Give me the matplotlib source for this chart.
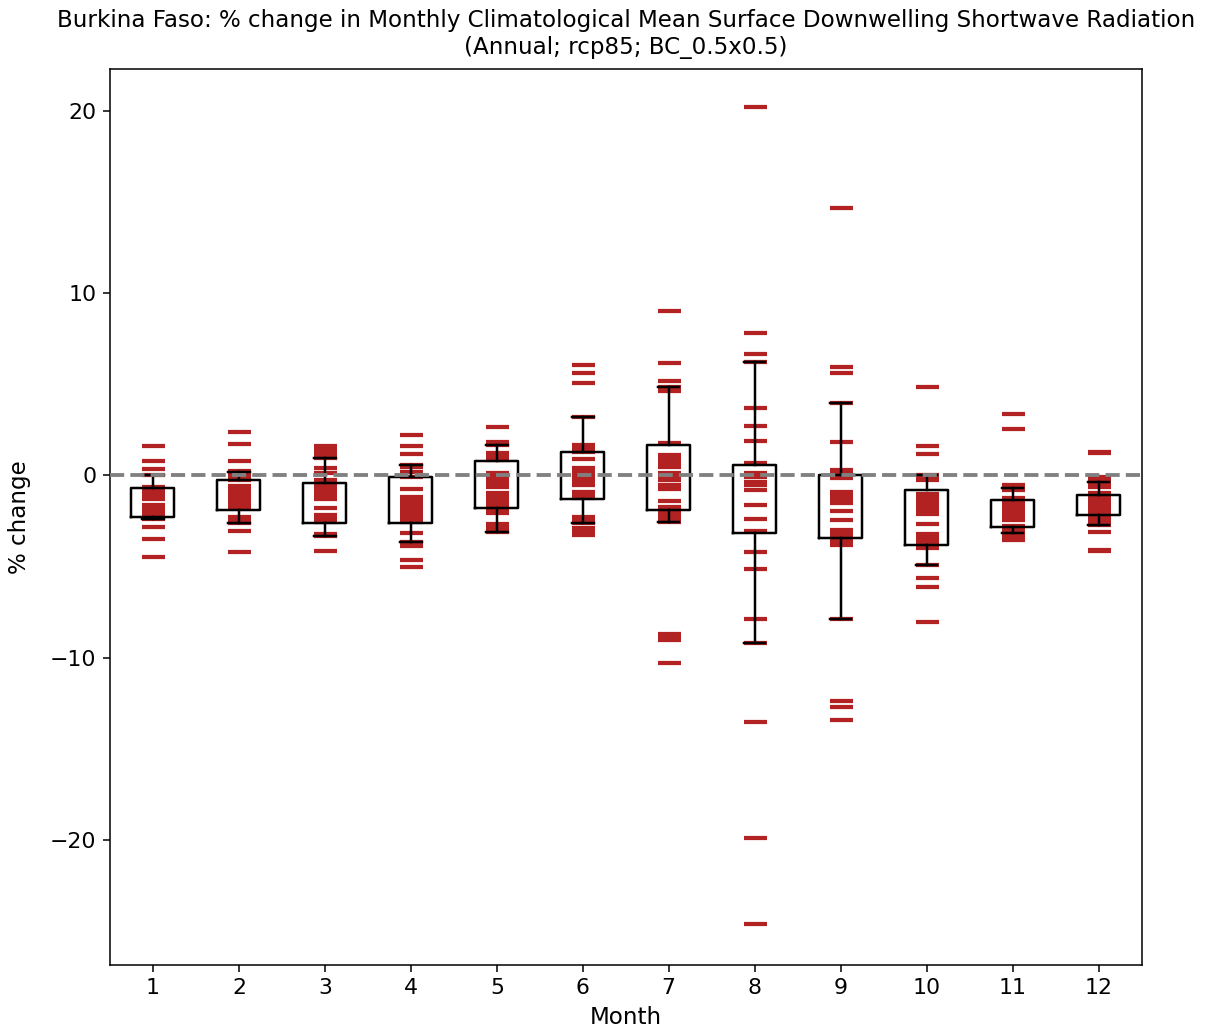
import numpy as np
import matplotlib
matplotlib.use("Agg")
import matplotlib.pyplot as plt

COUNTRY = "Burkina Faso"
TITLE = (f"{COUNTRY}: % change in Monthly Climatological Mean Surface Downwelling Shortwave Radiation\n"
         "(Annual; rcp85; BC_0.5x0.5)")

months = list(range(1, 13))

# individual model values (% change) per month
m1 = [1.63, 0.81, 0.36, 0.03, -0.62, -0.7, -0.8, -0.9, -1.0, -1.08, -1.15, -1.22, -1.3,
      -1.6, -1.68, -1.75, -1.82, -1.9, -1.97, -2.05, -2.12, -2.2, -2.26, -2.32, -2.39,
      -2.83, -3.48, -4.47]
m2 = [2.37, 1.73, 0.81, 0.26, 0.15, 0.02, -0.1, -0.25, -0.58, -0.7, -0.8, -0.95, -1.05,
      -1.15, -1.25, -1.35, -1.45, -1.55, -1.65, -1.78, -2.26, -2.4, -2.62, -3.03, -4.22]
m3 = [1.62, 1.45, 1.3, 1.15, 0.94, 0.4, 0.15, -0.25, -0.4, -0.55, -0.7, -0.85, -1.0,
      -1.16, -1.29, -1.77, -2.17, -2.3, -2.45, -2.53, -3.2, -3.32, -4.12]
m4 = [2.22, 1.64, 1.18, 0.58, 0.48, 0.21, -0.06, -0.76, -1.16, -1.3, -1.45, -1.6, -1.75,
      -1.9, -2.05, -2.2, -2.35, -2.53, -3.17, -3.63, -3.85, -4.64, -5.0]
m5 = [2.68, 1.82, 1.67, 1.25, 1.05, 0.85, 0.12, -0.1, -0.3, -0.45, -0.61, -0.96, -1.1,
      -1.25, -1.4, -1.55, -1.7, -1.85, -2.06, -2.66, -2.85, -3.03, -3.08]
m6 = [6.05, 5.6, 5.09, 3.23, 1.67, 1.5, 1.31, 0.9, 0.43, 0.25, 0.05, -0.15, -0.35,
      -0.52, -0.89, -1.05, -1.25, -2.26, -2.4, -2.53, -2.62, -2.86, -3.05, -3.26]
m7 = [9.03, 6.19, 5.19, 4.87, 4.64, 1.77, 1.12, 0.95, 0.8, 0.6, 0.48, 0.15, -0.06,
      -0.25, -0.52, -0.76, -1.38, -1.71, -1.9, -2.1, -2.3, -2.44, -2.53, -8.71, -8.85,
      -9.03, -10.3]
m8 = [20.2, 7.84, 6.67, 6.25, 3.72, 2.73, 1.89, 0.67, 0.12, -0.1, -0.35, -0.55, -0.8,
      -1.62, -2.39, -3.03, -4.21, -5.13, -7.87, -9.17, -13.5, -19.9, -24.6]
m9 = [14.68, 5.93, 5.63, 3.97, 1.81, 0.3, 0.1, -0.15, -0.93, -1.1, -1.3, -1.52, -1.97,
      -2.44, -2.99, -3.2, -3.42, -3.6, -3.81, -7.89, -12.4, -12.7, -13.42]
m10 = [4.83, 1.62, 1.16, 0.05, -0.1, -0.25, -1.0, -1.2, -1.4, -1.6, -1.8, -1.9, -2.14,
       -2.64, -3.24, -3.45, -3.65, -3.81, -3.97, -4.89, -5.64, -6.12, -8.04]
m11 = [3.36, 2.53, -0.52, -0.66, -0.8, -1.25, -1.4, -1.55, -1.7, -1.85, -2.0, -2.15,
       -2.3, -2.44, -2.75, -2.9, -3.05, -3.2, -3.35, -3.54]
m12 = [1.3, 1.22, -0.06, -0.2, -0.34, -0.48, -0.61, -0.98, -1.15, -1.3, -1.45, -1.6,
       -1.75, -1.9, -2.05, -2.2, -2.35, -2.5, -2.62, -2.72, -3.12, -4.08, -4.16]
values = [m1, m2, m3, m4, m5, m6, m7, m8, m9, m10, m11, m12]

# box statistics (10th-90th percentile whiskers)
q1 = [-2.26, -1.89, -2.62, -2.62, -1.80, -1.31, -1.89, -3.17, -3.42, -3.81, -2.81, -2.17]
q3 = [-0.67, -0.25, -0.43, -0.06, 0.80, 1.27, 1.67, 0.58, 0.05, -0.80, -1.34, -1.07]
whislo = [-2.39, -2.62, -3.32, -3.63, -3.08, -2.62, -2.53, -9.17, -7.89, -4.89, -3.17, -2.72]
whishi = [0.03, 0.21, 0.94, 0.58, 1.67, 3.23, 4.87, 6.25, 3.97, 0.05, -0.70, -0.34]

fig = plt.figure(figsize=(1208 / 138, 1034 / 138), dpi=138)
ax = fig.add_axes([0.091, 0.0667, 0.854, 0.8666])

for m, vals in zip(months, values):
    ax.plot([m] * len(vals), vals, "_", color="#b22222", markersize=12,
            markeredgewidth=2.2, zorder=2)

stats = []
for i, m in enumerate(months):
    stats.append({"med": float(np.median(values[i])), "q1": q1[i], "q3": q3[i],
                  "whislo": whislo[i], "whishi": whishi[i], "fliers": [], "label": str(m)})
ax.bxp(stats, positions=months, widths=0.5, showfliers=False,
       boxprops=dict(color="black", linewidth=1.3),
       whiskerprops=dict(color="black", linewidth=1.3),
       capprops=dict(color="black", linewidth=1.3),
       medianprops=dict(linewidth=0), zorder=3)

ax.axhline(0, color="grey", linestyle="--", linewidth=2, zorder=4)

ax.set_xlim(0.5, 12.5)
ax.set_ylim(-26.86, 22.3)
ax.set_yticks([-20, -10, 0, 10, 20])
ax.tick_params(labelsize=11.5)
ax.set_xlabel("Month", fontsize=12)
ax.set_ylabel("% change", fontsize=12, labelpad=10)
ax.set_title(TITLE, fontsize=12, pad=8)

fig.savefig("out.png", dpi=138)
